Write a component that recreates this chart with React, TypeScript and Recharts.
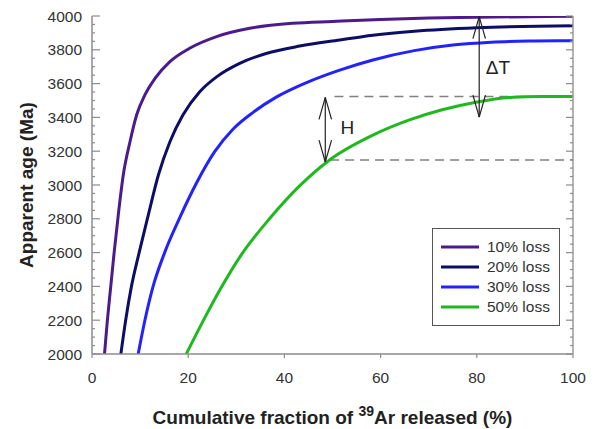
import React from 'react';
import {
  LineChart,
  Line,
  XAxis,
  YAxis,
  Legend,
  ReferenceLine,
  ReferenceDot,
} from 'recharts';

// curves: cumulative 39Ar fraction (%) vs apparent age (Ma)
const loss10X = [2.6, 3.2, 3.9, 4.6, 5.46, 6.5, 7.9, 9.27, 11.0, 13.1, 16.2, 20.3, 25.9, 32.8, 41.8, 50, 60, 70, 80, 100];
const loss10Age = [2000, 2200, 2400, 2600, 2822, 3059, 3256, 3414, 3533, 3631, 3730, 3809, 3878, 3927, 3957, 3968, 3980, 3988, 3993, 3998];

const loss20X = [6.0, 7.0, 8.2, 9.8, 11.7, 13.8, 16.2, 18.9, 22.4, 25.9, 30.7, 36.2, 43.2, 51.5, 58.4, 67, 80, 100];
const loss20Age = [2000, 2200, 2400, 2600, 2822, 3059, 3256, 3414, 3552, 3640, 3720, 3778, 3822, 3858, 3886, 3910, 3931, 3943];

const loss30X = [9.6, 11.0, 12.7, 15.1, 18.3, 21.7, 25.5, 29.3, 33.5, 38.3, 44.5, 51.5, 58.4, 67, 75, 83, 92, 100];
const loss30Age = [2000, 2200, 2400, 2600, 2810, 3010, 3197, 3330, 3430, 3520, 3605, 3680, 3740, 3795, 3828, 3845, 3852, 3854];

const loss50X = [19.6, 23.0, 26.6, 31.1, 36.9, 43.0, 49.4, 58.4, 66, 72.8, 79.8, 86.7, 93.6, 100];
const loss50Age = [2000, 2190, 2380, 2590, 2800, 2990, 3148, 3295, 3385, 3445, 3490, 3518, 3524, 3524];

const seriesNames = ['10% loss', '20% loss', '30% loss', '50% loss'];
const seriesColors = ['#4c1a8c', '#0d0d66', '#2222ff', '#1fb81f'];

const xTicks = [0, 20, 40, 60, 80, 100];
const yMajorTicks = [2000, 2200, 2400, 2600, 2800, 3000, 3200, 3400, 3600, 3800, 4000];
const yMinorStep = 50;

// annotations: H and delta-T arrows, dashed guides
const arrowLabels = ['H', 'ΔT'];
const arrowX = [48.5, 80.5];
const arrowTop = [3518, 3996];
const arrowBottom = [3136, 3402];
const labelX = [53.1, 84.4];
const labelAge = [3343, 3698];
const dashStartX = [50.4, 49.5];
const dashAge = [3524, 3148];

const toPoints = (xs: number[], ys: number[]) => xs.map((x, i) => ({ x, age: ys[i] }));
const series = [
  toPoints(loss10X, loss10Age),
  toPoints(loss20X, loss20Age),
  toPoints(loss30X, loss30Age),
  toPoints(loss50X, loss50Age),
];

const yAllTicks: number[] = [];
for (let v = 2000; v <= 4000; v += yMinorStep) yAllTicks.push(v);

const AXIS = '#8c8c8c';
const TEXT = '#333';
const FONT = 'Arial, "Liberation Sans", sans-serif';

const LeftTick = (props: any) => {
  const { x, y, payload } = props;
  const major = yMajorTicks.includes(payload.value);
  return (
    <g>
      <line x1={x} x2={x + (major ? 8 : 3)} y1={y} y2={y} stroke={AXIS} strokeWidth={1.2} />
      {major && (
        <text x={x - 10} y={y} dy="0.36em" textAnchor="end" fontSize={15.5} fill={TEXT} fontFamily={FONT}>
          {payload.value}
        </text>
      )}
    </g>
  );
};

const RightTick = (props: any) => {
  const { x, y, payload } = props;
  const major = yMajorTicks.includes(payload.value);
  return <line x1={x} x2={x - (major ? 7 : 3)} y1={y} y2={y} stroke={AXIS} strokeWidth={1.2} />;
};

const YTitle = (props: any) => {
  const vb = props.viewBox || { x: 0, y: 16, width: 92, height: 338 };
  const cx = vb.x + 26;
  const cy = vb.y + vb.height / 2;
  return (
    <text
      x={cx}
      y={cy}
      transform={`rotate(-90 ${cx} ${cy})`}
      textAnchor="middle"
      dy="0.36em"
      fontSize={19}
      fontWeight="bold"
      fill="#222"
      fontFamily={FONT}
    >
      Apparent age (Ma)
    </text>
  );
};

const XTitle = (props: any) => {
  const vb = props.viewBox || { x: 92, y: 354, width: 481, height: 75 };
  return (
    <text
      x={vb.x + vb.width / 2}
      y={vb.y + 70}
      textAnchor="middle"
      fontSize={19}
      fontWeight="bold"
      fill="#222"
      fontFamily={FONT}
    >
      Cumulative fraction of{' '}
      <tspan dy={-8} fontSize={14}>
        39
      </tspan>
      <tspan dy={8}>Ar released (%)</tspan>
    </text>
  );
};

const LegendBox = (props: any) => {
  const { payload = [] } = props;
  return (
    <div
      style={{
        border: '1.5px solid #555',
        boxSizing: 'border-box',
        width: 128,
        height: 98,
        padding: '8px 0 0 8px',
        background: '#fff',
        fontFamily: FONT,
      }}
    >
      {payload.map((p: any) => (
        <div key={p.value} style={{ display: 'flex', alignItems: 'center', height: 20 }}>
          <svg width={38} height={4}>
            <line x1={0} x2={38} y1={2} y2={2} stroke={p.color} strokeWidth={3} />
          </svg>
          <span style={{ marginLeft: 8, fontSize: 15.5, color: TEXT, lineHeight: '20px' }}>{p.value}</span>
        </div>
      ))}
    </div>
  );
};

const Arrow = (i: number) => {
  const x = arrowX[i];
  const hx = 1.3;
  const hy = 130;
  const segs = [
    [{ x, y: arrowTop[i] }, { x, y: arrowBottom[i] }],
    [{ x, y: arrowTop[i] }, { x: x - hx, y: arrowTop[i] - hy }],
    [{ x, y: arrowTop[i] }, { x: x + hx, y: arrowTop[i] - hy }],
    [{ x, y: arrowBottom[i] }, { x: x - hx, y: arrowBottom[i] + hy }],
    [{ x, y: arrowBottom[i] }, { x: x + hx, y: arrowBottom[i] + hy }],
  ];
  return segs.map((s, k) => (
    <ReferenceLine
      key={`arrow-${i}-${k}`}
      xAxisId="bottom"
      yAxisId="left"
      segment={s}
      stroke="#222"
      strokeWidth={1.2}
      ifOverflow="visible"
    />
  ));
};

const App = () => {
  return (
    <div style={{ position: 'absolute', left: 0, top: 0, width: 595, height: 429, background: '#fff' }}>
      <LineChart width={595} height={429} margin={{ top: 16, right: 0, bottom: 0, left: 0 }}>
        <XAxis
          xAxisId="bottom"
          dataKey="x"
          type="number"
          domain={[0, 100]}
          ticks={xTicks}
          interval={0}
          height={75}
          tickSize={4}
          tickMargin={14}
          axisLine={{ stroke: AXIS, strokeWidth: 1.5 }}
          tickLine={{ stroke: AXIS, strokeWidth: 1.2 }}
          tick={{ fontSize: 15.5, fill: TEXT, fontFamily: FONT }}
          label={<XTitle />}
          allowDataOverflow
        />
        <XAxis
          xAxisId="top"
          orientation="top"
          type="number"
          domain={[0, 100]}
          height={0}
          tick={false}
          tickLine={false}
          axisLine={{ stroke: '#a8a8a8', strokeWidth: 1.5 }}
        />
        <YAxis
          yAxisId="left"
          type="number"
          domain={[2000, 4000]}
          ticks={yAllTicks}
          interval={0}
          width={92}
          tickSize={0}
          tickMargin={0}
          tickLine={false}
          axisLine={{ stroke: AXIS, strokeWidth: 1.5 }}
          tick={<LeftTick />}
          label={<YTitle />}
          allowDataOverflow
        />
        <YAxis
          yAxisId="right"
          orientation="right"
          type="number"
          domain={[2000, 4000]}
          ticks={yAllTicks}
          interval={0}
          width={22}
          tickSize={0}
          tickMargin={0}
          tickLine={false}
          axisLine={{ stroke: '#9a9a9a', strokeWidth: 1.5 }}
          tick={<RightTick />}
          allowDataOverflow
        />

        {dashAge.map((age, i) => (
          <ReferenceLine
            key={`dash-${i}`}
            xAxisId="bottom"
            yAxisId="left"
            segment={[
              { x: dashStartX[i], y: age },
              { x: 100, y: age },
            ]}
            stroke="#808080"
            strokeWidth={1.5}
            strokeDasharray="9 6"
          />
        ))}

        {series.map((d, i) => (
          <Line
            key={seriesNames[i]}
            xAxisId="bottom"
            yAxisId="left"
            data={d}
            dataKey="age"
            name={seriesNames[i]}
            type="monotone"
            stroke={seriesColors[i]}
            strokeWidth={3}
            dot={false}
            activeDot={false}
            isAnimationActive={false}
          />
        ))}

        {Arrow(0)}
        {Arrow(1)}

        {arrowLabels.map((t, i) => (
          <ReferenceDot
            key={`lbl-${t}`}
            xAxisId="bottom"
            yAxisId="left"
            x={labelX[i]}
            y={labelAge[i]}
            r={1}
            fill="none"
            stroke="none"
            label={{ value: t, position: 'center', fontSize: 19, fill: '#222', fontFamily: FONT }}
          />
        ))}

        <Legend
          layout="vertical"
          align="center"
          verticalAlign="middle"
          content={<LegendBox />}
          wrapperStyle={{ position: 'absolute', left: 432, top: 228, right: 'auto', bottom: 'auto', width: 128, height: 98 }}
        />
      </LineChart>
    </div>
  );
};

export default App;
